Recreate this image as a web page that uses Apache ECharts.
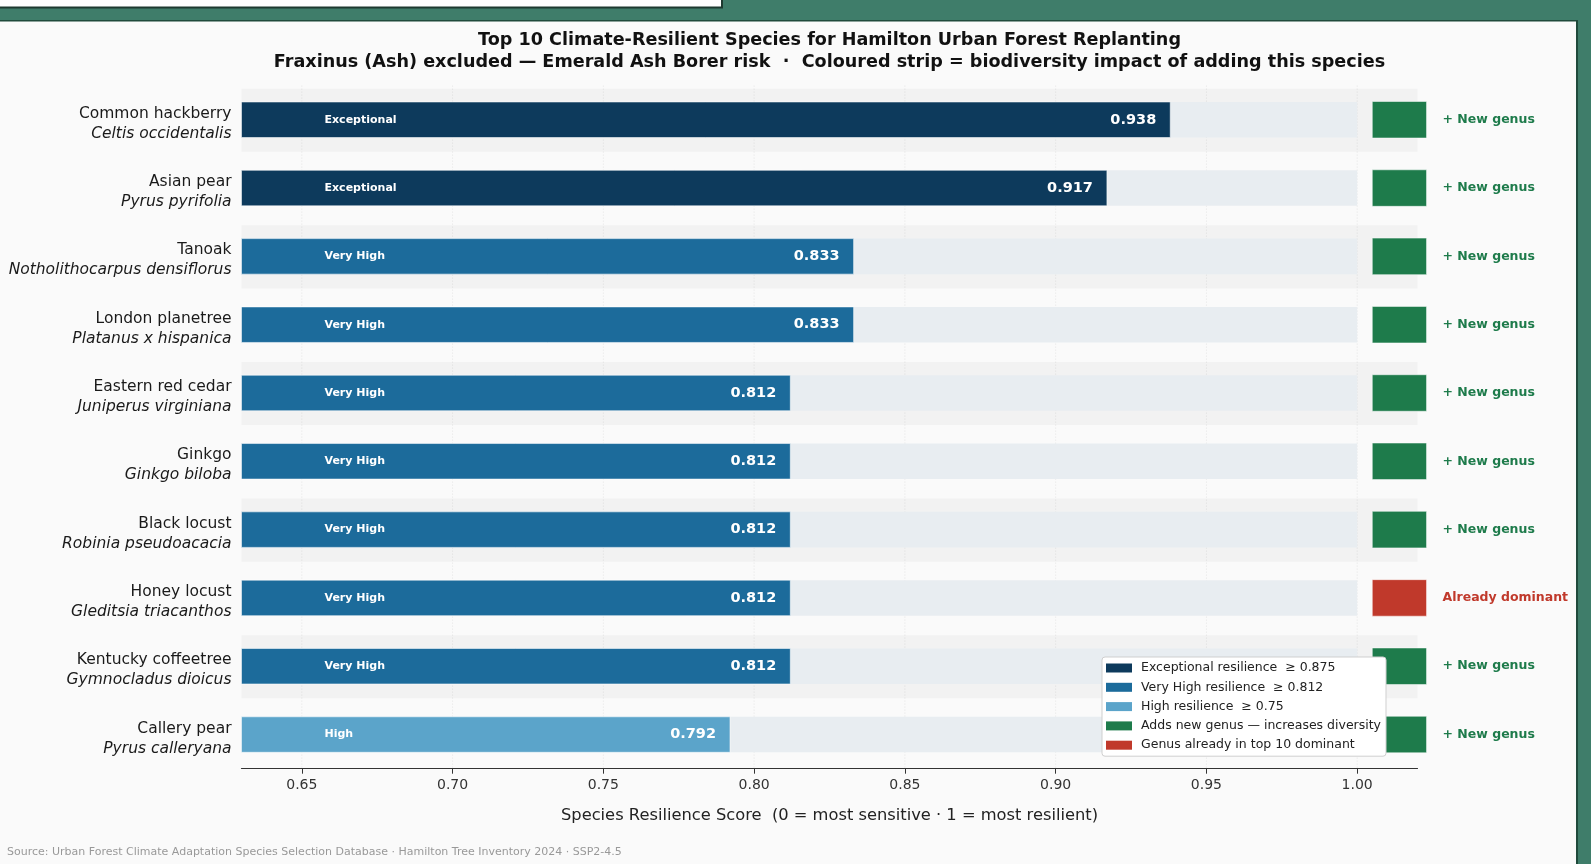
<!DOCTYPE html>
<html>
<head>
<meta charset="utf-8">
<script src="https://cdn.jsdelivr.net/npm/echarts@6/dist/echarts.min.js"></script>
<style>
  html, body { margin: 0; padding: 0; background: #fafafa; }
  #chart { width: 1591px; height: 864px; }
</style>
</head>
<body>
<div id="chart"></div>
<script>
// species, top = best score
const commonNames = ['Common hackberry', 'Asian pear', 'Tanoak', 'London planetree', 'Eastern red cedar',
  'Ginkgo', 'Black locust', 'Honey locust', 'Kentucky coffeetree', 'Callery pear'];
const scientificNames = ['Celtis occidentalis', 'Pyrus pyrifolia', 'Notholithocarpus densiflorus', 'Platanus x hispanica',
  'Juniperus virginiana', 'Ginkgo biloba', 'Robinia pseudoacacia', 'Gleditsia triacanthos', 'Gymnocladus dioicus', 'Pyrus calleryana'];
const scores = [0.938, 0.917, 0.833, 0.833, 0.812, 0.812, 0.812, 0.812, 0.812, 0.792];
const tiers = ['Exceptional', 'Exceptional', 'Very High', 'Very High', 'Very High',
  'Very High', 'Very High', 'Very High', 'Very High', 'High'];
const genusImpact = ['new', 'new', 'new', 'new', 'new', 'new', 'new', 'dominant', 'new', 'new'];
const tickValues = [0.65, 0.70, 0.75, 0.80, 0.85, 0.90, 0.95, 1.00];
const legendNames = ['Exceptional resilience  ≥ 0.875', 'Very High resilience  ≥ 0.812', 'High resilience  ≥ 0.75',
  'Adds new genus — increases diversity', 'Genus already in top 10 dominant'];

const tierColors = { 'Exceptional': '#0d3a5c', 'Very High': '#1c6b9b', 'High': '#5ba4ca' };
const impactColors = { 'new': '#1e7b4b', 'dominant': '#c0392b' };
const impactText = { 'new': '+ New genus', 'dominant': 'Already dominant' };
const legendColors = ['#0d3a5c', '#1c6b9b', '#5ba4ca', '#1e7b4b', '#c0392b'];

const X_MIN = 0.63, X_MAX = 1.02;

let chart = echarts.init(document.getElementById('chart'));

function renderRow(params, api) {
  let i = api.value(1);
  let score = api.value(0);
  let rowH = api.size([0, 1])[1];
  let start = api.coord([X_MIN, i]);
  let end = api.coord([X_MAX, i]);
  let trackEnd = api.coord([1.0, i]);
  let barEnd = api.coord([score, i]);
  let stripA = api.coord([1.005, i]);
  let stripB = api.coord([1.023, i]);
  let labelPos = api.coord([1.0283, i]);
  let y = start[1];
  let barH = rowH * 0.52;
  let kids = [];
  if (i % 2 === 0) {
    kids.push({ type: 'rect', shape: { x: start[0], y: y - rowH * 0.455, width: end[0] - start[0], height: rowH * 0.925 },
      style: { fill: 'rgba(0,0,0,0.03)' } });
  }
  kids.push({ type: 'rect', shape: { x: start[0], y: y - barH / 2, width: trackEnd[0] - start[0], height: barH },
    style: { fill: '#e8edf1' } });
  kids.push({ type: 'rect', shape: { x: start[0], y: y - barH / 2, width: barEnd[0] - start[0], height: barH },
    style: { fill: tierColors[tiers[i]], stroke: 'rgba(255,255,255,0.55)', lineWidth: 1 } });
  kids.push({ type: 'text', x: start[0] + 83, y: y,
    style: { text: tiers[i], fill: '#ffffff', font: 'bold 11px "DejaVu Sans"', align: 'left', verticalAlign: 'middle' } });
  kids.push({ type: 'text', x: barEnd[0] - 14, y: y,
    style: { text: score.toFixed(3), fill: '#ffffff', font: 'bold 14.5px "DejaVu Sans"', align: 'right', verticalAlign: 'middle' } });
  kids.push({ type: 'rect', shape: { x: stripA[0], y: y - barH / 2 - 0.5, width: stripB[0] - stripA[0], height: barH + 1 },
    style: { fill: impactColors[genusImpact[i]], stroke: 'rgba(255,255,255,0.5)', lineWidth: 1 } });
  kids.push({ type: 'text', x: labelPos[0], y: y,
    style: { text: impactText[genusImpact[i]], fill: impactColors[genusImpact[i]], font: 'bold 12.5px "DejaVu Sans"',
      align: 'left', verticalAlign: 'middle' } });
  return { type: 'group', children: kids };
}

// faint dotted grid at the tick values, under the rows
function renderGrid(params, api) {
  let cs = params.coordSys;
  let x = api.coord([api.value(0), 0])[0];
  return { type: 'line', shape: { x1: x, y1: cs.y, x2: x, y2: cs.y + cs.height },
    style: { stroke: '#e4e4e4', lineWidth: 1, lineDash: [1, 2] } };
}

let legendSeries = legendNames.map(function (n, k) {
  return { name: n, type: 'scatter', data: [], itemStyle: { color: legendColors[k], opacity: 1 } };
});

var option = {
  backgroundColor: '#fafafa',
  animation: false,
  textStyle: { fontFamily: 'DejaVu Sans' },
  title: {
    text: 'Top 10 Climate-Resilient Species for Hamilton Urban Forest Replanting\nFraxinus (Ash) excluded — Emerald Ash Borer risk  ·  Coloured strip = biodiversity impact of adding this species',
    left: 829.5,
    top: 29.5,
    textAlign: 'center',
    padding: 0,
    textStyle: { fontSize: 17.6, fontWeight: 'bold', color: '#111', lineHeight: 21.8, fontFamily: 'DejaVu Sans' }
  },
  legend: {
    orient: 'vertical',
    left: 1102,
    top: 657,
    icon: 'rect',
    itemWidth: 26,
    itemHeight: 9,
    itemGap: 5.3,
    padding: [4, 5, 4, 4],
    backgroundColor: '#ffffff',
    borderColor: '#cfcfcf',
    borderWidth: 1,
    borderRadius: 3,
    selectedMode: false,
    textStyle: { fontSize: 12.5, color: '#222', lineHeight: 14, padding: [0, 0, 0, 4] },
    data: legendNames
  },
  grid: { left: 241.5, right: 173.5, top: 85.6, bottom: 95.3, containLabel: false },
  xAxis: {
    type: 'value',
    min: X_MIN,
    max: X_MAX,
    name: 'Species Resilience Score  (0 = most sensitive · 1 = most resilient)',
    nameLocation: 'middle',
    nameGap: 39,
    nameTextStyle: { fontSize: 16.3, color: '#222' },
    axisLine: { show: true, lineStyle: { color: '#333', width: 1.2 } },
    axisTick: { show: true, length: 5, customValues: tickValues, lineStyle: { color: '#333' } },
    axisLabel: { customValues: tickValues, fontSize: 14, color: '#333', margin: 9.5,
      formatter: function (v) { return v.toFixed(2); } },
    splitLine: { show: false }
  },
  yAxis: {
    type: 'category',
    inverse: true,
    data: commonNames,
    axisLine: { show: false },
    axisTick: { show: false },
    axisLabel: {
      margin: 10,
      padding: [8, 0, 0, 0],
      formatter: function (v, idx) { return '{c|' + commonNames[idx] + '}\n{s|' + scientificNames[idx] + '}'; },
      rich: {
        c: { fontSize: 15.5, color: '#1a1a1a', lineHeight: 20, align: 'right' },
        s: { fontSize: 15.5, color: '#1a1a1a', lineHeight: 20, fontStyle: 'italic', align: 'right' }
      }
    }
  },
  series: [{
    type: 'custom',
    z: 1,
    silent: true,
    renderItem: renderGrid,
    data: tickValues.map(function (v) { return [v]; })
  }, {
    type: 'custom',
    clip: false,
    z: 3,
    renderItem: renderRow,
    data: scores.map(function (s, i) { return [s, i]; })
  }].concat(legendSeries),
  graphic: [
    { type: 'rect', shape: { x: 0, y: 0, width: 1591, height: 21 }, style: { fill: '#3f7d6a' }, silent: true },
    { type: 'rect', shape: { x: 1577, y: 0, width: 14, height: 864 }, style: { fill: '#3f7d6a' }, silent: true },
    { type: 'rect', shape: { x: 0, y: 20, width: 1578, height: 1.5 }, style: { fill: '#1f4a3b' }, silent: true },
    { type: 'rect', shape: { x: 1576, y: 20, width: 2, height: 844 }, style: { fill: '#1f4a3b' }, silent: true },
    { type: 'rect', shape: { x: -2, y: -2, width: 724, height: 9.5 }, style: { fill: '#ffffff', stroke: '#1e3a30', lineWidth: 2 }, silent: true },
    { type: 'text', left: 7, top: 847,
      style: { text: 'Source: Urban Forest Climate Adaptation Species Selection Database · Hamilton Tree Inventory 2024 · SSP2-4.5',
        fill: '#999999', font: '11px "DejaVu Sans"' } }
  ]
};
chart.setOption(option, true);
</script>
</body>
</html>
